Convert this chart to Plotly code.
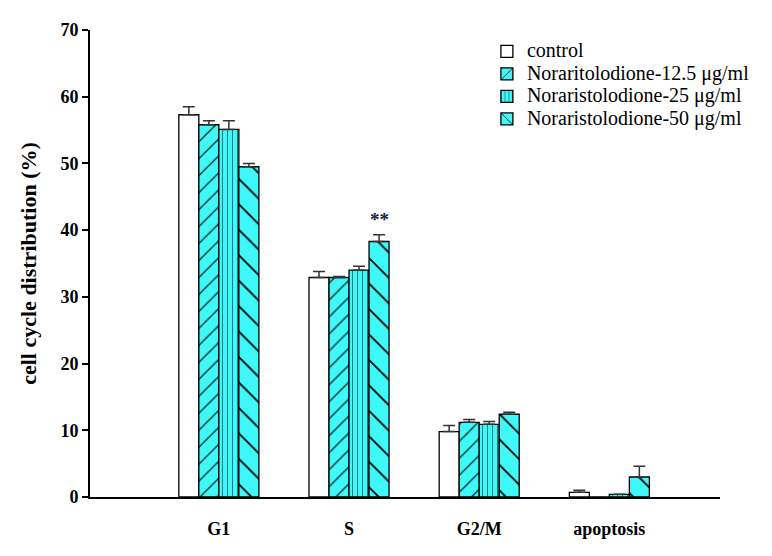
import plotly.graph_objects as go

categories = ["G1", "S", "G2/M", "apoptosis"]
series_names = ["control", "Noraritolodione-12.5 μg/ml",
                "Noraristolodione-25 μg/ml", "Noraristolodione-50 μg/ml"]
control = [57.3, 32.9, 9.8, 0.7]
control_err = [1.2, 0.9, 0.9, 0.3]
d12 = [55.8, 32.9, 11.2, 0.0]
d12_err = [0.6, 0.15, 0.4, 0.0]
d25 = [55.1, 34.0, 10.9, 0.4]
d25_err = [1.3, 0.6, 0.4, 0.0]
d50 = [49.5, 38.3, 12.4, 3.0]
d50_err = [0.5, 1.0, 0.3, 1.6]

values = [control, d12, d25, d50]
errors = [control_err, d12_err, d25_err, d50_err]
fills = ["white", "#3ff8f8", "#3ff8f8", "#3ff8f8"]
shapes = ["", "/", "|", "\\"]
psizes = [8, 12, 5, 18]

FONT = "Liberation Serif, Times New Roman, serif"
fig = go.Figure()
for name, v, e, c, s, ps in zip(series_names, values, errors, fills, shapes, psizes):
    fig.add_trace(go.Bar(
        name='<span style="font-size:20px">' + name + '</span>',
        x=categories, y=v,
        marker=dict(color=c, line=dict(color="black", width=1.3),
                    pattern=dict(shape=s, fgcolor="black", bgcolor=c,
                                 size=ps, solidity=0.1, fillmode="replace")),
        error_y=dict(type="data", array=e, arrayminus=[0]*len(e), symmetric=False,
                     color="#333333", thickness=1.5, width=6, visible=True),
    ))

ngroups = len(series_names)
bargap = 0.385
bw = (1 - bargap) / ngroups
star_x = 1 + (ngroups - 1 - (ngroups - 1) / 2) * bw
fig.add_annotation(x=star_x, y=d50[1] + d50_err[1] + 0.4, text="**",
                   showarrow=False, yanchor="bottom",
                   font=dict(family=FONT, size=19, color="#1a1a40", weight="bold"))

fig.update_layout(
    width=772, height=556,
    margin=dict(l=82, r=60, t=16, b=67),
    paper_bgcolor="white", plot_bgcolor="white",
    barmode="group", bargap=bargap, bargroupgap=0,
    font=dict(family=FONT, size=18, color="black"),
    showlegend=True,
    legend=dict(x=0.63, y=0.989, xanchor="left", yanchor="top",
                font=dict(family=FONT, size=15, color="black"),
                bgcolor="rgba(0,0,0,0)", tracegroupgap=0),
    xaxis=dict(type="category", range=[-0.99, 3.85],
               showline=True, linecolor="black", linewidth=2,
               ticks="outside", ticklen=14, tickcolor="rgba(0,0,0,0)",
               tickfont=dict(family=FONT, size=18, color="black", weight="bold"),
               showgrid=False),
    yaxis=dict(range=[0, 70], tickvals=[0, 10, 20, 30, 40, 50, 60, 70],
               showline=True, linecolor="black", linewidth=2,
               ticks="outside", ticklen=6, tickwidth=1.5, tickcolor="black",
               tickfont=dict(family=FONT, size=18, color="black", weight="bold"),
               showgrid=False, zeroline=False,
               title=dict(text="cell cycle distribution (%)",
                          font=dict(family=FONT, size=22, color="black", weight="bold"),
                          standoff=18)),
)
fig.write_html("out.html")
